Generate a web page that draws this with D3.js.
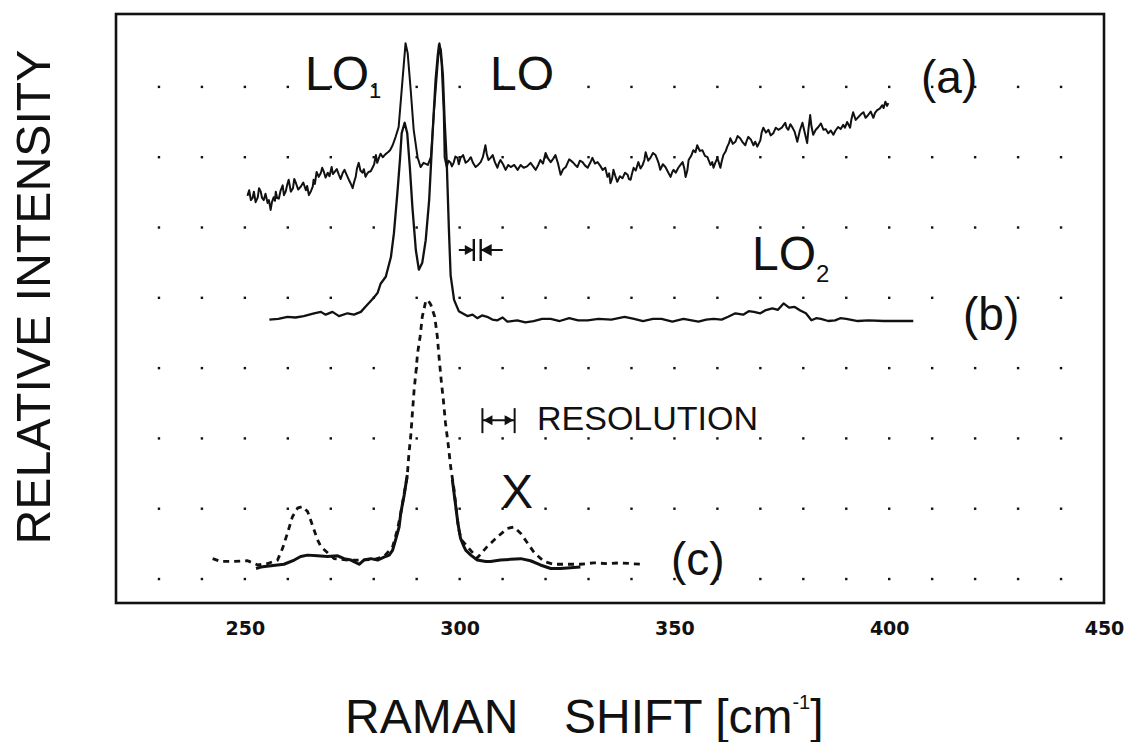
<!DOCTYPE html>
<html>
<head>
<meta charset="utf-8">
<script src="https://cdn.jsdelivr.net/npm/d3@7"></script>
<style>
  body { margin: 0; background: #fff; }
  svg { display: block; }
</style>
</head>
<body>
<svg id="chart" width="1129" height="742"></svg>
<script>
// ---------------- DATA ----------------
// x: Raman shift (cm^-1); y: relative intensity (arbitrary units, grid step = 10)
const xTickValues = [250, 300, 350, 400, 450];
const gridX = [230, 240, 250, 260, 270, 280, 290, 300, 310, 320, 330, 340, 350, 360, 370, 380, 390, 400, 410, 420, 430, 440];
const gridY = [0, 10, 20, 30, 40, 50, 60, 70];

// (a) spectrum
const spectrumA = [
[250.6,54.5],[251.0,55.3],[251.4,53.9],[251.8,54.2],[252.1,55.1],[252.5,53.6],[253.0,54.3],[253.3,55.6],[253.7,55.1],[254.0,54.2],
[254.4,53.9],[254.8,54.8],[255.3,53.5],[255.6,53.9],[256.0,52.5],[256.3,53.6],[256.7,54.3],[257.0,53.8],[257.2,55.1],[257.5,54.2],
[257.9,54.1],[258.3,55.2],[258.8,56.0],[259.1,54.6],[259.5,55.1],[259.9,56.2],[260.2,56.8],[260.7,55.1],[261.2,55.6],[261.5,56.9],
[261.9,56.3],[262.4,55.4],[263.0,55.8],[263.6,56.4],[264.2,55.3],[264.5,55.9],[264.9,54.6],[265.4,55.2],[265.8,55.8],[266.0,56.8],
[266.3,56.2],[266.7,57.9],[267.2,57.2],[267.7,57.8],[268.0,58.5],[268.4,57.9],[268.8,57.1],[269.3,57.8],[269.7,57.3],[270.2,58.6],
[270.5,57.6],[270.9,57.9],[271.4,58.3],[271.9,57.5],[272.3,56.9],[272.8,57.8],[273.2,58.2],[273.7,57.5],[274.2,56.8],[274.6,56.3],
[275.1,55.6],[275.4,56.4],[275.8,57.2],[276.1,58.4],[276.5,59.2],[276.9,58.1],[277.4,57.8],[277.7,58.3],[278.1,57.2],[278.4,57.6],
[278.8,57.9],[279.3,58.0],[279.8,58.6],[280.1,59.0],[280.5,60.3],[280.8,59.2],[281.2,59.9],[281.6,60.5],[282.1,60.0],[282.7,60.4],
[283.3,60.7],[283.8,61.0],[284.4,61.7],[285.1,62.9],[285.8,64.3],[286.7,71.0],[287.4,76.2],[287.9,74.8],[288.6,69.6],[289.3,63.9],
[290.2,60.0],[290.9,58.6],[291.6,59.2],[292.6,58.9],[293.3,60.0],[294.0,66.3],[294.9,73.4],[295.3,76.2],[295.8,73.4],[296.3,66.3],
[296.5,60.0],[297.0,58.6],[297.4,59.5],[297.9,59.2],[298.2,58.7],[298.6,59.2],[299.0,60.1],[299.5,59.9],[299.8,59.0],[300.2,59.9],
[300.8,60.3],[301.4,59.2],[302.0,59.5],[302.6,60.0],[303.1,59.2],[303.7,58.6],[304.3,58.9],[304.9,59.3],[305.4,60.0],[306.0,61.7],
[306.3,60.5],[306.7,59.6],[307.2,59.9],[307.7,60.3],[308.2,59.3],[308.8,58.5],[309.1,59.1],[309.5,59.6],[310.1,59.0],[310.7,58.2],
[311.3,58.9],[311.9,58.6],[312.7,58.9],[313.5,58.2],[314.2,58.9],[314.9,58.5],[315.7,58.7],[316.5,59.2],[317.1,58.7],[317.7,58.2],
[318.3,58.9],[318.8,59.6],[319.4,59.1],[320.0,60.6],[320.6,59.8],[321.2,59.3],[321.8,59.8],[322.3,60.3],[322.9,59.1],[323.5,57.5],
[324.1,58.3],[324.7,58.6],[325.5,59.7],[326.3,59.3],[326.9,58.9],[327.4,58.6],[328.0,59.5],[328.6,59.3],[329.2,58.8],[329.8,58.5],
[330.4,59.2],[330.9,59.9],[331.5,59.1],[332.1,59.3],[332.7,58.8],[333.3,58.2],[333.9,58.5],[334.4,57.2],[334.8,57.7],[335.1,56.3],
[335.5,57.0],[335.8,58.2],[336.2,57.4],[336.7,56.5],[337.3,57.3],[337.9,57.0],[338.5,57.8],[339.1,57.5],[339.4,56.9],[339.8,56.8],
[340.1,57.6],[340.5,58.5],[341.0,58.1],[341.6,59.3],[342.1,58.4],[342.6,58.9],[343.0,59.6],[343.3,60.7],[343.9,59.5],[344.4,59.9],
[345.0,60.6],[345.6,60.3],[346.0,59.7],[346.3,59.2],[346.7,58.2],[347.3,59.0],[347.9,58.6],[348.5,57.9],[349.1,57.2],[349.5,57.9],
[349.8,58.2],[350.3,57.8],[350.9,58.5],[351.4,58.9],[351.9,59.3],[352.3,58.4],[352.6,57.2],[353.0,58.1],[353.3,59.6],[353.9,60.2],
[354.4,61.0],[354.9,60.7],[355.3,61.7],[355.9,60.9],[356.5,61.0],[357.1,60.2],[357.7,60.0],[358.0,59.5],[358.4,58.9],[358.8,59.3],
[359.1,58.5],[359.5,59.2],[360.0,59.9],[360.4,59.1],[360.7,58.5],[361.0,59.4],[361.4,60.3],[361.9,60.8],[362.3,61.5],[362.7,62.0],
[363.0,62.7],[363.6,61.9],[364.2,62.2],[364.7,63.0],[365.3,62.7],[365.9,62.1],[366.5,61.7],[366.8,62.3],[367.2,62.9],[367.8,62.5],
[368.4,61.7],[368.8,62.2],[369.3,61.5],[369.6,61.9],[370.0,62.4],[370.3,63.5],[370.7,64.2],[371.3,63.5],[371.9,63.9],[372.4,63.1],
[373.0,63.4],[373.6,64.2],[374.2,63.9],[375.0,64.2],[375.8,64.9],[376.1,64.2],[376.5,63.9],[377.0,64.7],[377.4,64.3],[378.0,63.6],
[378.6,62.2],[379.2,63.8],[379.8,64.9],[380.3,63.6],[380.9,62.0],[381.2,64.0],[381.6,66.0],[381.9,64.4],[382.3,63.2],[382.9,63.9],
[383.5,64.3],[384.1,64.8],[384.7,63.9],[385.2,64.0],[385.8,63.4],[386.4,63.8],[387.0,63.2],[387.5,63.8],[388.1,64.3],[388.7,64.0],
[389.3,64.6],[389.7,64.2],[390.2,65.0],[390.9,64.2],[391.2,65.4],[391.6,66.4],[392.2,65.3],[392.8,65.7],[393.4,66.1],[394.0,66.4],
[394.5,65.6],[395.1,66.0],[395.7,66.5],[396.3,65.6],[396.7,66.3],[397.2,66.7],[397.8,66.9],[398.4,67.4],[398.7,67.0],[399.1,67.9],
[399.5,67.3],[399.8,67.7]
];

// (b) spectrum
const spectrumB = [
[255.7,36.9],[257.8,37.0],[259.9,37.3],[261.8,37.2],[263.7,37.4],[266.1,37.8],[267.7,38.0],[268.8,37.6],[270.4,38.0],[271.9,37.4],
[273.9,37.8],[275.4,37.6],[277.0,38.0],[278.5,39.0],[280.0,40.0],[280.9,40.7],[281.6,42.0],[282.8,43.0],[284.0,45.8],[284.7,49.2],
[285.5,54.9],[286.1,59.6],[286.5,63.4],[287.2,64.9],[287.8,63.4],[288.4,58.6],[289.0,52.9],[289.8,46.8],[290.5,44.0],[291.3,45.0],
[292.1,48.2],[292.9,53.9],[293.5,61.0],[294.0,66.7],[294.4,71.0],[294.9,74.5],[295.2,76.0],[295.6,75.3],[296.1,71.7],[296.5,65.3],
[297.0,59.2],[297.5,49.7],[297.9,43.2],[298.7,39.7],[299.8,38.1],[301.8,37.4],[303.0,37.6],[304.1,37.1],[305.2,37.5],[306.4,37.3],
[307.6,36.9],[308.8,36.8],[310.0,37.2],[311.1,36.6],[313.4,36.8],[315.3,36.5],[317.2,36.7],[319.2,37.0],[321.2,37.0],[323.3,36.7],
[325.5,37.1],[327.6,36.8],[329.8,36.8],[332.3,37.0],[335.3,36.9],[338.4,37.3],[340.6,37.0],[342.7,36.7],[345.0,37.0],[347.0,37.0],
[349.5,36.6],[352.1,37.0],[355.6,36.6],[357.4,36.9],[359.1,37.0],[361.0,36.9],[362.5,37.3],[364.2,37.8],[366.0,37.6],[367.3,38.1],
[368.5,38.0],[370.0,37.8],[371.1,38.2],[372.8,38.5],[374.1,38.3],[375.4,39.2],[376.7,38.6],[378.0,38.7],[379.3,38.2],[380.6,37.8],
[381.9,36.8],[383.0,37.1],[384.1,37.0],[385.8,36.7],[387.4,36.8],[388.6,37.1],[390.0,37.0],[392.7,36.7],[395.2,36.8],[398.7,36.7],
[405.6,36.7]
];

// (c) measured spectrum (solid; hidden under the dashed curve at the main peak)
const spectrumC = [
[252.6,1.5],[253.7,1.7],[256.1,1.9],[259.1,2.1],[261.5,2.7],[263.0,3.2],[264.6,3.4],[266.9,3.3],[269.2,3.2],[271.6,3.3],
[273.1,2.9],[274.7,2.7],[276.6,2.1],[277.7,2.7],[279.3,2.9],[280.9,2.7],[282.4,3.1],[283.6,3.4],[284.4,4.1],[285.1,5.6],
[285.9,7.4],[286.3,9.4],[287.1,12.0],[287.8,14.8],
null,
[298.3,14.1],[299.1,10.3],[299.6,7.9],[300.2,5.8],[301.0,4.6],[301.4,4.1],[302.6,3.4],[304.1,2.7],[306.1,2.5],[307.2,2.5],
[309.5,2.7],[311.9,2.8],[314.2,2.9],[316.5,2.6],[318.8,2.0],[321.2,1.5],[323.5,1.5],[325.8,1.6],[328.1,1.7]
];

// (c) dashed spectrum
const spectrumCdash = [
[242.5,2.9],[244.4,2.5],[247.5,2.5],[250.6,2.6],[253.0,2.0],[255.3,2.2],[257.6,2.7],[258.8,4.4],[259.9,6.5],[261.1,8.9],
[262.3,10.1],[263.4,10.3],[264.6,9.6],[265.7,7.7],[266.9,5.6],[267.7,4.6],[270.8,2.9],[273.9,2.7],[277.0,2.7],[280.1,2.8],
[282.4,3.2],[284.4,4.6],[285.5,7.0],[286.3,9.4],[287.1,12.2],[287.8,14.6],[288.2,17.9],[288.6,20.2],[289.0,23.6],[289.4,26.9],
[289.8,29.3],[290.2,32.1],[290.8,34.5],[291.3,37.3],[292.1,39.5],[292.6,39.7],[293.3,39.0],[294.2,37.3],[294.8,34.5],[295.2,31.6],
[295.7,28.3],[296.2,25.5],[296.7,22.2],[297.4,18.8],[297.9,16.0],[298.7,12.7],[299.3,9.4],[299.8,7.0],[300.4,5.6],[301.8,4.6],
[304.1,3.0],[306.4,4.6],[308.8,6.0],[311.1,7.2],[312.6,7.4],[314.2,6.5],[315.7,5.2],[317.3,3.8],[319.6,2.5],[321.9,2.1],
[325.1,2.1],[328.1,2.1],[331.2,2.3],[334.4,2.2],[337.4,2.3],[342.1,2.1]
];

// resolution markers: [left bar, right bar] in cm^-1 and level
const resolutionUpper = [303.3, 304.9];
const resolutionUpperLevel = [46.8];
const resolutionLower = [305.3, 312.8];
const resolutionLowerLevel = [22.6];

// ---------------- CHART ----------------
const svg = d3.select('#chart');
svg.append('rect').attr('width', 1129).attr('height', 742).attr('fill', '#fff');

const x = d3.scaleLinear().domain([220, 450]).range([116, 1104]);
const y = d3.scaleLinear().domain([-3.41, 80.37]).range([603, 14]);

const FONT = '"Liberation Sans", Arial, Helvetica, sans-serif';

// grid dots
const dots = [];
gridY.forEach(gy => gridX.forEach(gx => dots.push([gx, gy])));
svg.append('g').selectAll('rect').data(dots).join('rect')
  .attr('x', d => x(d[0]) - 1.2).attr('y', d => y(d[1]) - 1.2)
  .attr('width', 2.4).attr('height', 2.4).attr('fill', '#111');

// frame
svg.append('rect')
  .attr('x', x(220)).attr('y', y(80.37))
  .attr('width', x(450) - x(220)).attr('height', y(-3.41) - y(80.37))
  .attr('fill', 'none').attr('stroke', '#111').attr('stroke-width', 2.6);

// x axis labels
const xAxis = d3.axisBottom(x).tickValues(xTickValues).tickSize(0).tickPadding(19).tickFormat(d3.format('d'));
const gx = svg.append('g').attr('transform', `translate(0,${y(-3.41)})`).call(xAxis);
gx.select('.domain').remove();
gx.selectAll('text')
  .attr('font-family', '"DejaVu Sans", sans-serif')
  .attr('font-weight', 'bold')
  .attr('font-size', 19)
  .attr('fill', '#111');

// curves
const line = d3.line().defined(d => d !== null).x(d => x(d[0])).y(d => y(d[1]));

svg.append('path').attr('d', line(spectrumA))
  .attr('fill', 'none').attr('stroke', '#111').attr('stroke-width', 2).attr('stroke-linejoin', 'round');
svg.append('path').attr('d', line(spectrumB))
  .attr('fill', 'none').attr('stroke', '#111').attr('stroke-width', 2.3).attr('stroke-linejoin', 'round');
svg.append('path').attr('d', line(spectrumC))
  .attr('fill', 'none').attr('stroke', '#111').attr('stroke-width', 3).attr('stroke-linejoin', 'round');
svg.append('path').attr('d', line(spectrumCdash))
  .attr('fill', 'none').attr('stroke', '#111').attr('stroke-width', 2.8)
  .attr('stroke-dasharray', '6,5');

// resolution markers
function arrowHead(g, tipX, tipY, dir, len, half) {
  g.append('path')
    .attr('d', `M${tipX},${tipY} L${tipX - dir * len},${tipY - half} L${tipX - dir * len},${tipY + half} Z`)
    .attr('fill', '#111');
}
// upper: ->||<-
{
  const g = svg.append('g');
  const yl = y(resolutionUpperLevel[0]);
  const xl = x(resolutionUpper[0]), xr = x(resolutionUpper[1]);
  [xl, xr].forEach(bx => g.append('line').attr('x1', bx).attr('x2', bx)
    .attr('y1', yl - 11).attr('y2', yl + 11).attr('stroke', '#111').attr('stroke-width', 2.4));
  g.append('line').attr('x1', xl - 15).attr('x2', xl).attr('y1', yl).attr('y2', yl).attr('stroke', '#111').attr('stroke-width', 2);
  g.append('line').attr('x1', xr).attr('x2', xr + 22).attr('y1', yl).attr('y2', yl).attr('stroke', '#111').attr('stroke-width', 2);
  arrowHead(g, xl, yl, 1, 9, 5);
  arrowHead(g, xr, yl, -1, 11, 6);
}
// lower: |<->|
{
  const g = svg.append('g');
  const yl = y(resolutionLowerLevel[0]);
  const xl = x(resolutionLower[0]), xr = x(resolutionLower[1]);
  [xl, xr].forEach(bx => g.append('line').attr('x1', bx).attr('x2', bx)
    .attr('y1', yl - 12).attr('y2', yl + 13).attr('stroke', '#111').attr('stroke-width', 2));
  g.append('line').attr('x1', xl).attr('x2', xr).attr('y1', yl).attr('y2', yl).attr('stroke', '#111').attr('stroke-width', 2);
  arrowHead(g, xl + 1, yl, -1, 9, 5);
  arrowHead(g, xr - 1, yl, 1, 9, 5);
}

// labels
function label(txt, px, py, size, sub, subSize, subDy) {
  const t = svg.append('text').attr('x', px).attr('y', py)
    .attr('font-family', FONT).attr('font-size', size).attr('fill', '#111').text(txt);
  if (sub) {
    t.append('tspan').attr('font-size', subSize).attr('dy', subDy).text(sub);
  }
  return t;
}
label('LO', 305, 90, 48, '1', 22, 8);
label('LO', 490, 90, 48);
label('(a)', 921, 93, 46);
label('LO', 752, 270, 48, '2', 24, 12);
label('(b)', 963, 330, 46);
label('RESOLUTION', 537, 430, 34);
label('X', 501, 508, 48);
label('(c)', 671, 575, 46);

// axis titles
svg.append('text')
  .attr('transform', 'translate(50,297) rotate(-90)')
  .attr('text-anchor', 'middle')
  .attr('font-family', FONT).attr('font-size', 48).attr('fill', '#111')
  .attr('textLength', 495).attr('lengthAdjust', 'spacingAndGlyphs')
  .text('RELATIVE INTENSITY');

const xt = svg.append('text').attr('y', 733)
  .attr('font-family', FONT).attr('font-size', 48).attr('fill', '#111');
xt.append('tspan').attr('x', 345).text('RAMAN');
xt.append('tspan').attr('x', 564).text('SHIFT [cm');
xt.append('tspan').attr('font-size', 20).attr('dy', -24).text('-1');
xt.append('tspan').attr('font-size', 48).attr('dy', 24).text(']');
</script>
</body>
</html>
